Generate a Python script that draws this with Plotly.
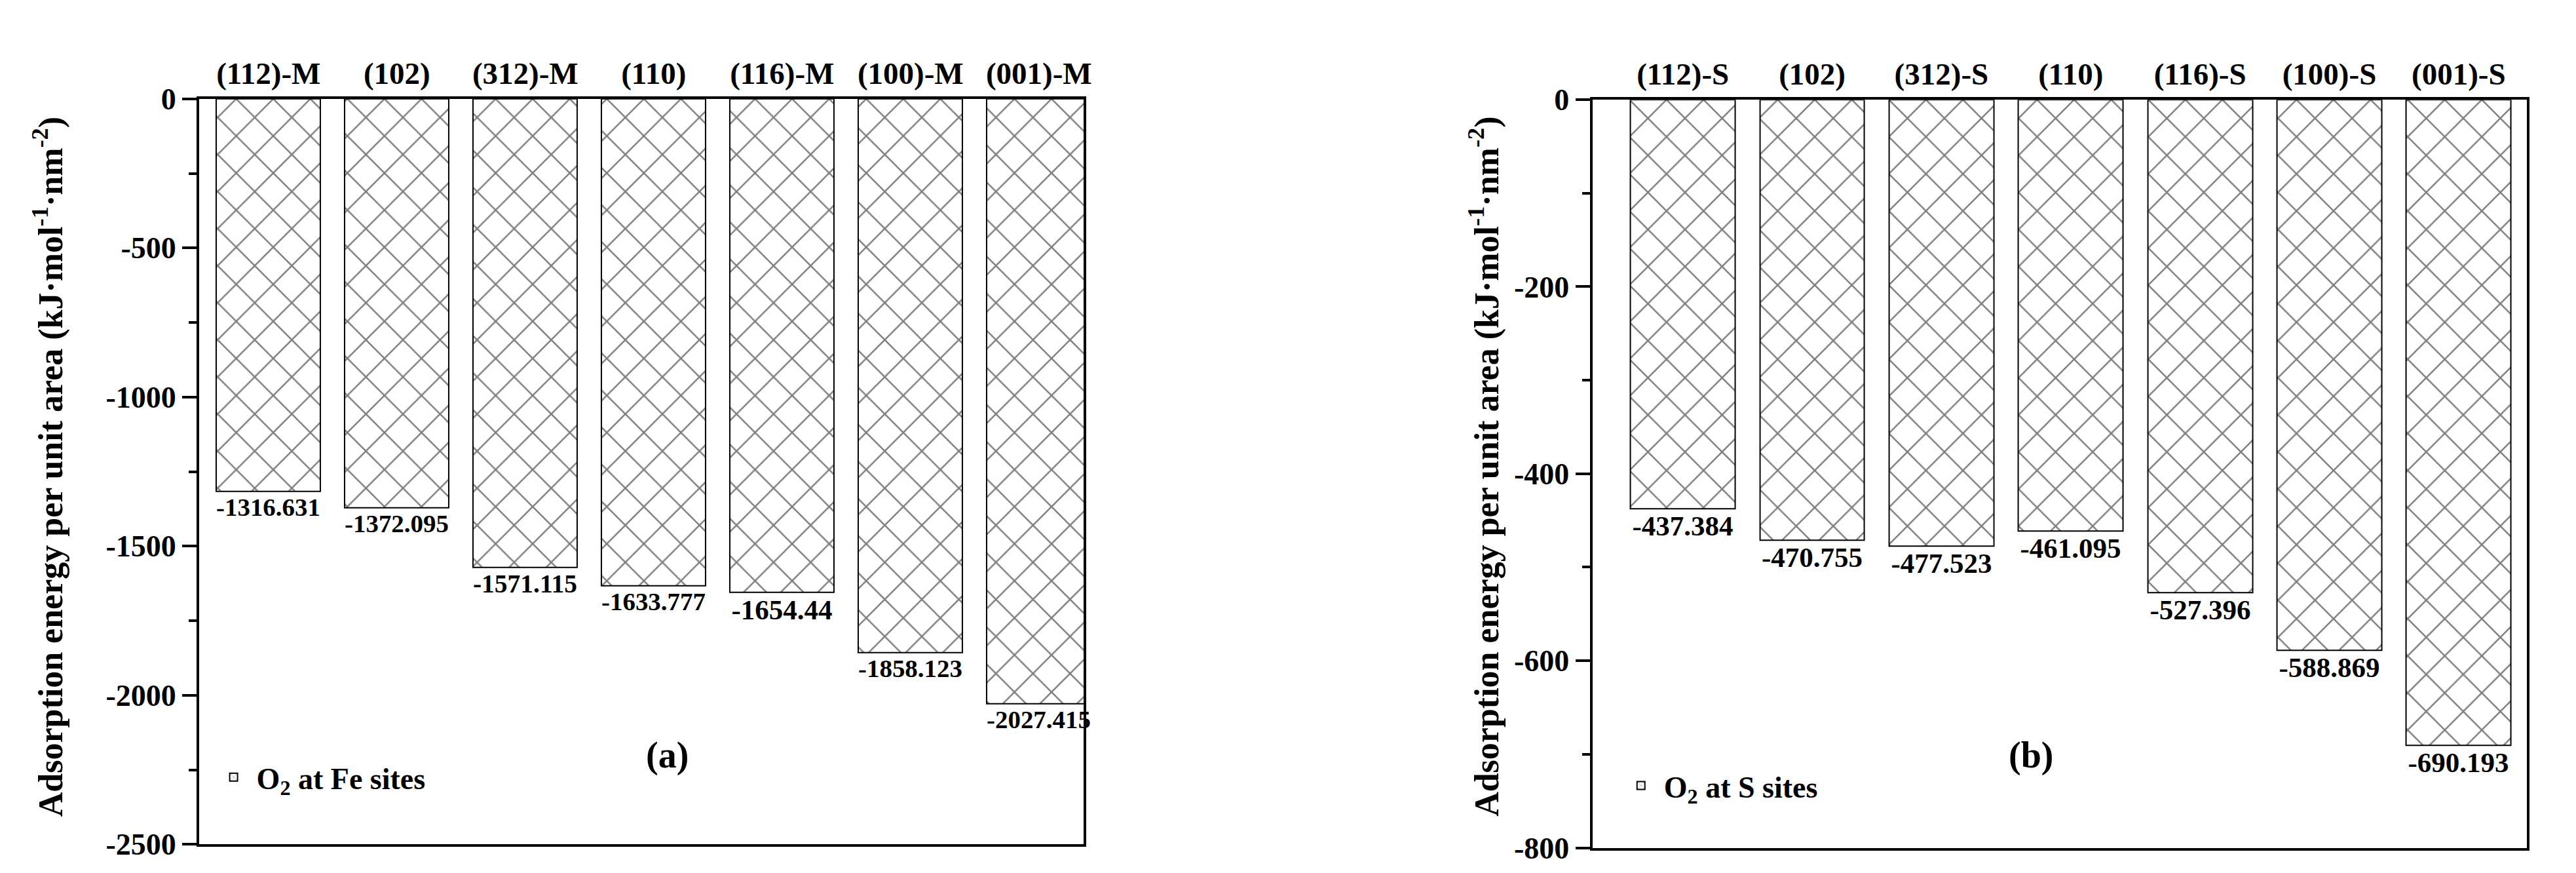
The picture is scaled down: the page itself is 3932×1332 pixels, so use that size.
import plotly.graph_objects as go
from plotly.subplots import make_subplots

# Data
facets_fe = ["(112)-M", "(102)", "(312)-M", "(110)", "(116)-M", "(100)-M", "(001)-M"]
energy_fe = [-1316.631, -1372.095, -1571.115, -1633.777, -1654.44, -1858.123, -2027.415]
facets_s = ["(112)-S", "(102)", "(312)-S", "(110)", "(116)-S", "(100)-S", "(001)-S"]
energy_s = [-437.384, -470.755, -477.523, -461.095, -527.396, -588.869, -690.193]
energy_fe_text = ["-1316.631", "-1372.095", "-1571.115", "-1633.777", "-1654.44", "-1858.123", "-2027.415"]
energy_s_text = ["-437.384", "-470.755", "-477.523", "-461.095", "-527.396", "-588.869", "-690.193"]

FONT = "Liberation Serif"
fig = make_subplots(rows=1, cols=2)

pattern = dict(shape="x", fgcolor="black", bgcolor="white", size=40, solidity=0.12)

fig.add_trace(go.Bar(
    x=list(range(7)), y=energy_fe, width=0.81, text=[f"<b>{t}</b>" for t in energy_fe_text],
    textposition="outside", textfont=dict(family=FONT, size=43, color="black"), cliponaxis=False,
    marker=dict(color="white", pattern=pattern, line=dict(color="black", width=2)),
    name="<b>O<sub>2</sub> at Fe sites</b>", legend="legend", showlegend=True,
), row=1, col=1)
fig.add_trace(go.Bar(
    x=list(range(7)), y=energy_s, width=0.81, text=[f"<b>{t}</b>" for t in energy_s_text],
    textposition="outside", textfont=dict(family=FONT, size=43, color="black"), cliponaxis=False,
    marker=dict(color="white", pattern=pattern, line=dict(color="black", width=2)),
    name="<b>O<sub>2</sub> at S sites</b>", legend="legend2", showlegend=True,
), row=1, col=2)

axis_common = dict(showline=True, linecolor="black", linewidth=4, mirror=True,
                   showgrid=False, zeroline=False)

fig.update_xaxes(**axis_common, side="top", ticks="", tickmode="array", tickvals=list(range(7)),
                 tickfont=dict(family=FONT, size=47, color="black"))
fig.update_xaxes(domain=[0.0755, 0.42], range=[-0.54, 6.35],
                 ticktext=[f"<b>{f}</b>" for f in facets_fe], row=1, col=1)
fig.update_xaxes(domain=[0.618, 0.982], range=[-0.70, 6.53],
                 ticktext=[f"<b>{f}</b>" for f in facets_s], row=1, col=2)

fig.update_yaxes(**axis_common, ticks="outside", ticklen=22, tickwidth=4, tickcolor="black",
                 tickfont=dict(family=FONT, size=46, color="black"),
                 minor=dict(ticks="outside", ticklen=12, tickwidth=4, tickcolor="black"))
fig.update_yaxes(domain=[0.02, 0.908], range=[-2500, 0],
                 tickvals=[0, -500, -1000, -1500, -2000, -2500],
                 ticktext=["<b>0</b>", "<b>-500</b>", "<b>-1000</b>", "<b>-1500</b>", "<b>-2000</b>", "<b>-2500</b>"],
                 minor_tickvals=[-250, -750, -1250, -1750, -2250], row=1, col=1)
fig.update_yaxes(domain=[0.016, 0.907], range=[-800, 0],
                 tickvals=[0, -200, -400, -600, -800],
                 ticktext=["<b>0</b>", "<b>-200</b>", "<b>-400</b>", "<b>-600</b>", "<b>-800</b>"],
                 minor_tickvals=[-100, -300, -500, -700], row=1, col=2)

ytitle = "<b>Adsorption energy per unit area (kJ·mol<sup>-1</sup>·nm<sup>-2</sup>)</b>"
for xpos in [0.008, 0.576]:
    fig.add_annotation(x=xpos, y=0.47, xref="paper", yref="paper", text=ytitle, textangle=-90,
                       showarrow=False, font=dict(family=FONT, size=52, color="black"))
for xpos, label in [(0.249, "(a)"), (0.798, "(b)")]:
    fig.add_annotation(x=xpos, y=0.10, xref="paper", yref="paper", text=f"<b>{label}</b>",
                       showarrow=False, font=dict(family=FONT, size=56, color="black"))

legend_style = dict(font=dict(family=FONT, size=46, color="black"), bgcolor="rgba(0,0,0,0)",
                    xanchor="left", yanchor="middle", itemwidth=60)
fig.update_layout(
    width=3932, height=1332, plot_bgcolor="white", paper_bgcolor="white",
    margin=dict(l=0, r=0, t=0, b=0), bargap=0, showlegend=True,
    legend=dict(x=0.08, y=0.10, **legend_style),
    legend2=dict(x=0.628, y=0.09, **legend_style),
)

fig.write_html("out.html")
